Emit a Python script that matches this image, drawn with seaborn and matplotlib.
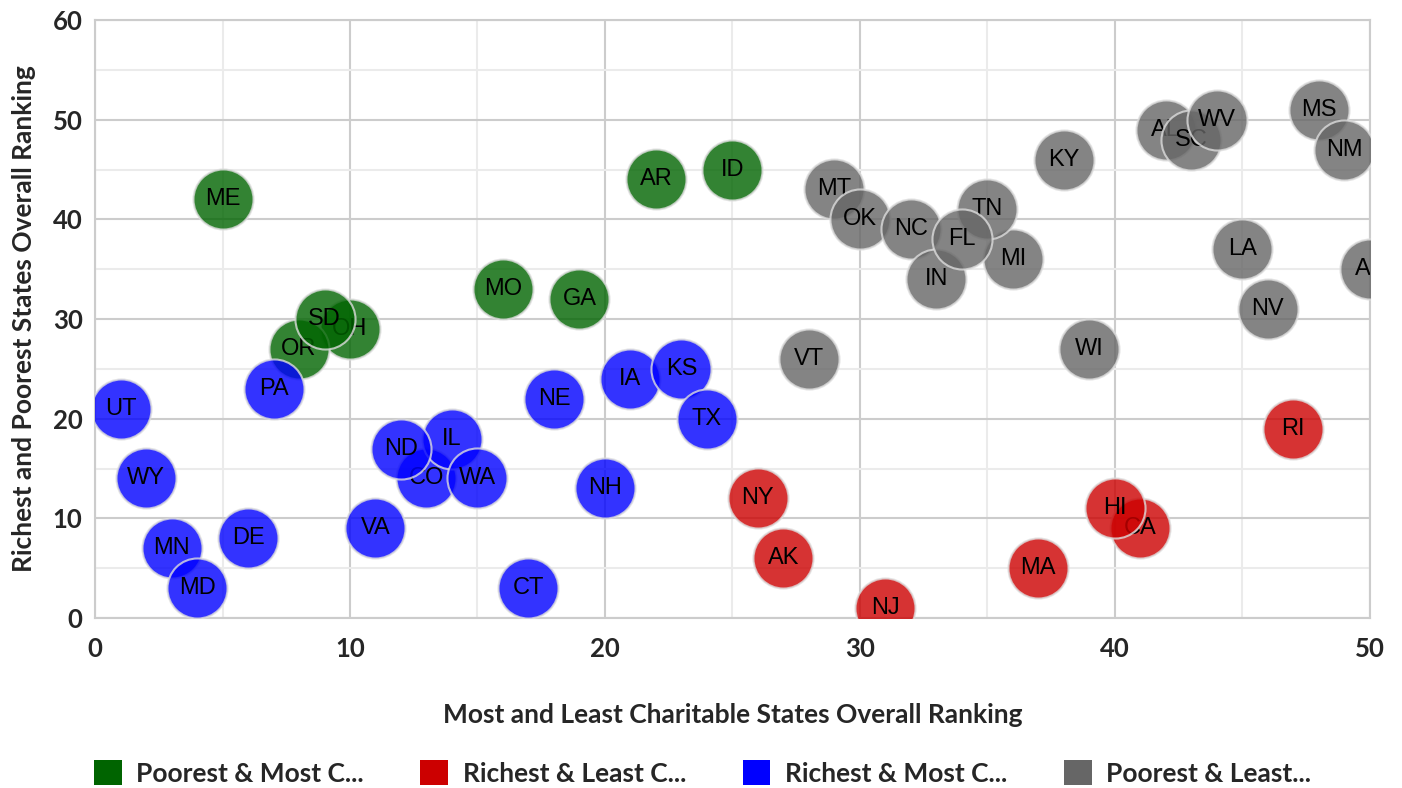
import numpy as np
import pandas as pd
import matplotlib.pyplot as plt
import seaborn as sns
from matplotlib.patches import Patch
from matplotlib.ticker import MultipleLocator

# state groups: (state, charity rank, rich/poor rank); list order = drawing order
poor_most = ['ME', 'OH', 'OR', 'SD', 'MO', 'GA', 'AR', 'ID']
poor_most_x = [5, 10, 8, 9, 16, 19, 22, 25]
poor_most_y = [42, 29, 27, 30, 33, 32, 44, 45]

rich_least = ['NY', 'AK', 'NJ', 'MA', 'CA', 'HI', 'RI']
rich_least_x = [26, 27, 31, 37, 41, 40, 47]
rich_least_y = [12, 6, 1, 5, 9, 11, 19]

rich_most = ['UT', 'WY', 'MN', 'MD', 'DE', 'PA', 'VA', 'CO', 'IL', 'ND', 'WA',
             'CT', 'NE', 'NH', 'IA', 'KS', 'TX']
rich_most_x = [1, 2, 3, 4, 6, 7, 11, 13, 14, 12, 15, 17, 18, 20, 21, 23, 24]
rich_most_y = [21, 14, 7, 3, 8, 23, 9, 14, 18, 17, 14, 3, 22, 13, 24, 25, 20]

poor_least = ['VT', 'MT', 'OK', 'NC', 'IN', 'MI', 'TN', 'FL', 'KY', 'WI', 'AL',
              'SC', 'WV', 'LA', 'NV', 'MS', 'NM', 'AZ']
poor_least_x = [28, 29, 30, 32, 33, 36, 35, 34, 38, 39, 42, 43, 44, 45, 46, 48, 49, 50]
poor_least_y = [26, 43, 40, 39, 34, 36, 41, 38, 46, 27, 49, 48, 50, 37, 31, 51, 47, 35]

groups = ['Poorest & Most C...', 'Richest & Least C...', 'Richest & Most C...', 'Poorest & Least...']
colors = ['#006400', '#cc0000', '#0000ff', '#666666']

frames = []
for g, st, xs, ys in zip(groups,
                         [poor_most, rich_least, rich_most, poor_least],
                         [poor_most_x, rich_least_x, rich_most_x, poor_least_x],
                         [poor_most_y, rich_least_y, rich_most_y, poor_least_y]):
    frames.append(pd.DataFrame({'state': st, 'charity': xs, 'wealth': ys, 'group': g}))
df = pd.concat(frames, ignore_index=True)

sns.set_style('white')
plt.rcParams['font.family'] = ['Lato', 'DejaVu Sans']

fig = plt.figure(figsize=(14.02, 7.88), dpi=100)
ax = fig.add_axes([0.0678, 0.2157, 0.9092, 0.7589])

pal = dict(zip(groups, colors))
# one bubble at a time so each label sits with its own bubble in the stack
for i, r in df.iterrows():
    sns.scatterplot(data=df.iloc[[i]], x='charity', y='wealth', hue='group',
                    palette=pal, s=1870, alpha=0.8, edgecolor='#dddddd',
                    linewidth=1.5, legend=False, ax=ax, zorder=3 + 2 * i)
    ax.text(r['charity'], r['wealth'], r['state'], ha='center', va='center',
            fontsize=17, family='Liberation Sans', color='black',
            zorder=4 + 2 * i, clip_on=True)

ax.set_xlim(0, 50)
ax.set_ylim(0, 60)
ax.xaxis.set_major_locator(MultipleLocator(10))
ax.yaxis.set_major_locator(MultipleLocator(10))
ax.xaxis.set_minor_locator(MultipleLocator(5))
ax.yaxis.set_minor_locator(MultipleLocator(5))
ax.grid(which='major', color='#cccccc', linewidth=1.5, zorder=0)
ax.grid(which='minor', color='#ebebeb', linewidth=1.5, zorder=0)
ax.set_axisbelow(True)
for side in ['top', 'right', 'left', 'bottom']:
    ax.spines[side].set_visible(True)
    ax.spines[side].set_color('#cccccc')
    ax.spines[side].set_linewidth(1.5)
ax.tick_params(which='both', length=0, labelsize=18.5)
ax.tick_params(axis='x', pad=14)
ax.tick_params(axis='y', pad=9)
for lab in ax.get_xticklabels() + ax.get_yticklabels():
    lab.set_fontweight('bold')

ax.set_xlabel('Most and Least Charitable States Overall Ranking', fontsize=19,
              fontweight='bold', labelpad=30)
ax.set_ylabel('Richest and Poorest States Overall Ranking', fontsize=19,
              fontweight='bold', labelpad=12)

handles = [Patch(facecolor=c, edgecolor='none', label=g) for g, c in zip(groups, colors)]
fig.legend(handles=handles, loc='lower left', bbox_to_anchor=(0.05, -0.027), ncol=4,
           frameon=False, prop={'size': 19, 'weight': 'bold'}, handlelength=1.05,
           handleheight=1.05, columnspacing=2.15, handletextpad=0.55)

fig.savefig('out.png', dpi=100)
